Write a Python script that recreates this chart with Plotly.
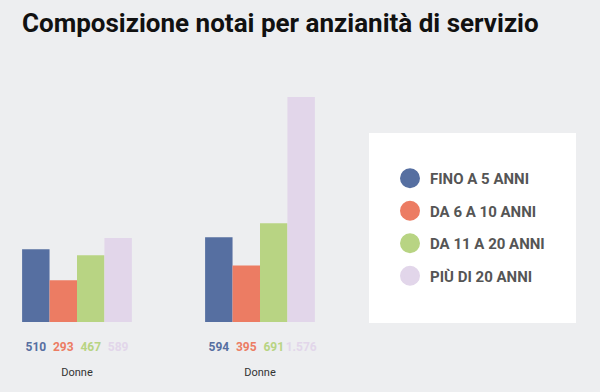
import plotly.graph_objects as go

groups = [0, 1]
group_labels = ["Donne", "Donne"]
series_names = ["FINO A 5 ANNI", "DA 6 A 10 ANNI", "DA 11 A 20 ANNI", "PIÙ DI 20 ANNI"]
fino_5 = [510, 594]
da_6_10 = [293, 395]
da_11_20 = [467, 691]
piu_20 = [589, 1576]
colors = ["#566fa1", "#ec7c63", "#b8d483", "#e2d6ea"]

series_values = [fino_5, da_6_10, da_11_20, piu_20]

fig = go.Figure()
for i, (name, vals, col) in enumerate(zip(series_names, series_values, colors)):
    fig.add_trace(go.Bar(
        x=groups, y=vals, name=name, marker=dict(color=col, line=dict(width=0)),
        offsetgroup=str(i), showlegend=False, hoverinfo="skip"))
    fig.add_trace(go.Scatter(
        x=groups, y=[0] * len(vals), mode="markers+text", offsetgroup=str(i),
        marker=dict(size=30, color="rgba(0,0,0,0)"),
        text=vals, texttemplate="%{text:,}", textposition="bottom center",
        textfont=dict(family="Roboto", size=12, color=col, weight="bold"),
        showlegend=False, hoverinfo="skip", cliponaxis=False))
    fig.add_trace(go.Scatter(
        x=[None], y=[None], mode="markers", name=name, legendgroup=str(i),
        marker=dict(symbol="circle", size=16, color=col, line=dict(width=4, color=col))))

fig.update_layout(
    width=600, height=392,
    paper_bgcolor="#edeef0", plot_bgcolor="#edeef0",
    margin=dict(l=0, r=0, t=90, b=70),
    separators=",.",
    barmode="group", bargap=0.4, bargroupgap=0,
    scattermode="group", scattergap=0.4,
    title=dict(text="<b>Composizione notai per anzianità di servizio</b>",
               x=22 / 600, xanchor="left", y=1 - 23 / 392, yanchor="middle",
               font=dict(family="Roboto", size=26, color="#111111")),
    xaxis=dict(domain=[0, 0.55], range=[-77 / 183, 253 / 183],
               tickvals=groups, ticktext=group_labels,
               showgrid=False, zeroline=False, showline=False,
               ticklabelstandoff=42,
               tickfont=dict(family="Roboto", size=11, color="#333333")),
    yaxis=dict(range=[0, 1625], visible=False),
    legend=dict(x=390 / 600, xanchor="left", y=1 - 72 / 232, yanchor="top",
                bgcolor="rgba(0,0,0,0)", tracegroupgap=10, itemsizing="trace",
                font=dict(family="Roboto", size=15, color="#555555", weight="bold")),
    shapes=[dict(type="rect", xref="paper", yref="paper",
                 x0=369 / 600, x1=576 / 600, y0=-1 / 232, y1=189 / 232,
                 fillcolor="white", line=dict(width=0), layer="below")],
)

fig.write_html("out.html", config={"displayModeBar": False},
               post_script="document.body.style.margin='0';")
